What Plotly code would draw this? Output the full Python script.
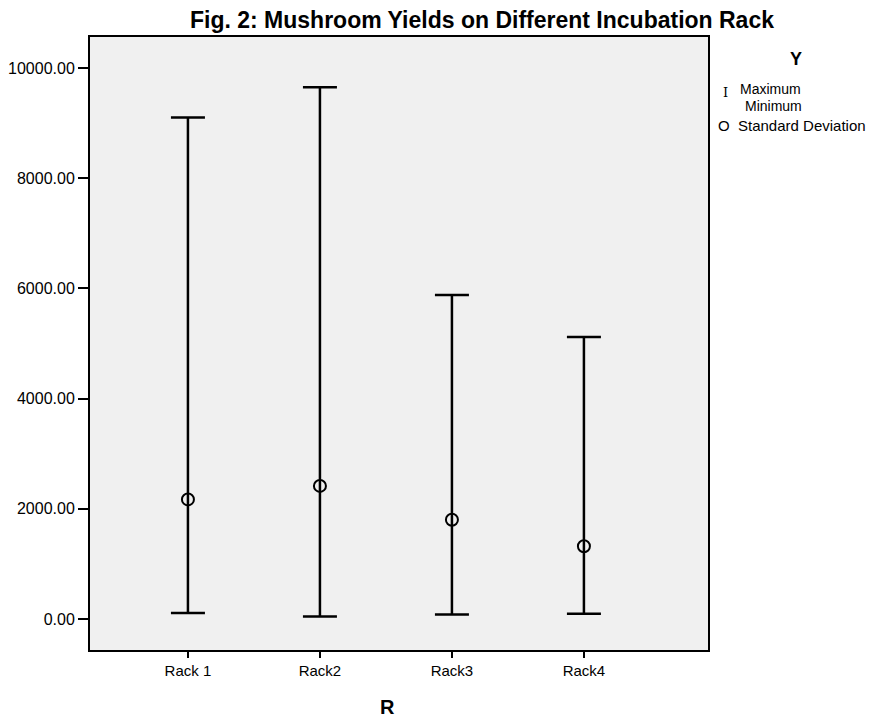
import plotly.graph_objects as go

racks = ["Rack 1", "Rack2", "Rack3", "Rack4"]
maximum = [9100, 9650, 5880, 5120]
minimum = [110, 45, 80, 95]
std_dev = [2170, 2415, 1800, 1320]

OFF = 8  # default page body margin
W, H = 875 - OFF, 717 - OFF
L, T = 90 - OFF, 37 - OFF
R, B = 875 - 708, 717 - 650
pw, ph = W - L - R, H - T - B

def px(x):
    return (x - OFF - L) / pw

def py(y):
    return (H - B - (y - OFF)) / ph

fig = go.Figure()
fig.add_trace(go.Scatter(
    x=racks, y=std_dev, mode="markers",
    marker=dict(symbol="circle-open", size=12, color="black", line=dict(width=2, color="black")),
    error_y=dict(type="data", symmetric=False,
                 array=[mx - s for mx, s in zip(maximum, std_dev)],
                 arrayminus=[s - mn for mn, s in zip(minimum, std_dev)],
                 color="black", thickness=2.5, width=17),
    showlegend=False, hoverinfo="skip"))

fnt = "Liberation Sans, Arial, sans-serif"
fig.update_layout(
    width=W, height=H,
    margin=dict(l=L, r=R, t=T, b=B, autoexpand=False),
    paper_bgcolor="white", plot_bgcolor="#f0f0f0",
    font=dict(family=fnt, color="black", size=15),
    title=dict(text="<b>Fig. 2: Mushroom Yields on Different Incubation Rack</b>",
               x=px(482), xref="paper", xanchor="center", y=1 - 11.5 / H, yanchor="middle",
               font=dict(size=23, family=fnt)),
    xaxis=dict(type="category", range=[-0.742, 3.94], showgrid=False, zeroline=False,
               automargin=False,
               showline=True, linecolor="black", linewidth=2, mirror=True,
               ticks="outside", ticklen=6, tickwidth=1.5, tickcolor="black",
               tickfont=dict(size=15)),
    yaxis=dict(range=[-563, 10563], tickvals=[0, 2000, 4000, 6000, 8000, 10000],
               automargin=False,
               tickformat=".2f", showgrid=False, zeroline=False,
               showline=True, linecolor="black", linewidth=2, mirror=True,
               ticks="outside", ticklen=10, tickwidth=2, tickcolor="black",
               tickfont=dict(size=16)),
)

anns = [
    dict(text="<b>R</b>", x=px(387), y=py(707), xanchor="center", font=dict(size=20)),
    dict(text="<b>Y</b>", x=px(796), y=py(59), xanchor="center", font=dict(size=18)),
    dict(text="I", x=px(725), y=py(93), xanchor="center", font=dict(size=13, family="DejaVu Serif")),
    dict(text="Maximum", x=px(738), y=py(89), xanchor="left", font=dict(size=14)),
    dict(text="Minimum", x=px(743), y=py(106), xanchor="left", font=dict(size=14)),
    dict(text="O", x=px(724), y=py(126), xanchor="center", font=dict(size=15)),
    dict(text="Standard Deviation", x=px(736), y=py(126), xanchor="left", font=dict(size=15)),
]
for a in anns:
    fig.add_annotation(xref="paper", yref="paper", showarrow=False, yanchor="middle", **a)

fig.write_html("out.html")
